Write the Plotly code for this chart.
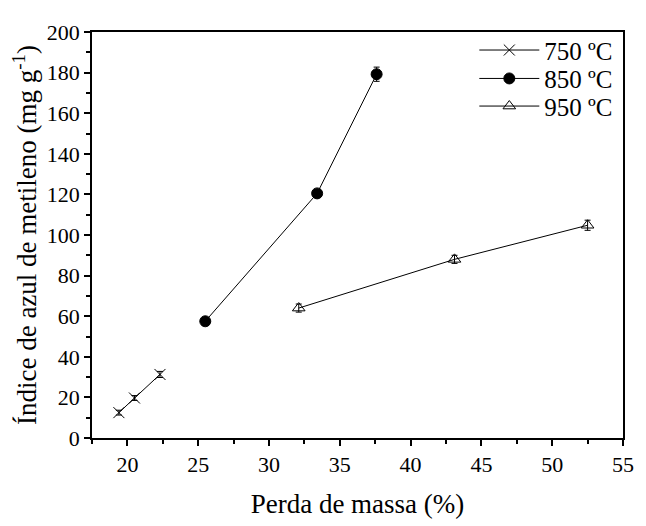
import plotly.graph_objects as go

# Data
x750 = [19.4, 20.5, 22.3]
y750 = [12.5, 19.7, 31.3]
e750 = [1.2, 1.2, 1.5]

x850 = [25.5, 33.4, 37.6]
y850 = [57.5, 120.5, 179.2]
e850 = [1.0, 1.5, 3.5]

x950 = [32.1, 43.1, 52.5]
y950 = [64.0, 88.0, 104.8]
e950 = [2.0, 2.0, 2.5]

names = ["750 ºC", "850 ºC", "950 ºC"]

font_family = "Liberation Serif"

fig = go.Figure()

def add(xs, ys, es, name, symbol, size, legend):
    fig.add_trace(go.Scatter(
        x=xs, y=ys, name=name, mode="lines+markers", legend=legend,
        line=dict(color="black", width=1),
        marker=dict(symbol=symbol, size=size, color="black",
                    line=dict(color="black", width=1)),
        error_y=dict(type="data", array=es, visible=True,
                     color="black", thickness=1, width=3),
    ))

add(x750, y750, e750, names[0], "x-thin-open", 11, "legend")
add(x850, y850, e850, names[1], "circle", 11, "legend2")
add(x950, y950, e950, names[2], "triangle-up-open", 11, "legend3")

axis_common = dict(
    showgrid=False, zeroline=False, showline=True, linecolor="black",
    linewidth=1.5, mirror=True, ticks="outside", ticklen=6, tickwidth=1.5,
    tickcolor="black", tickfont=dict(family=font_family, size=22, color="black"),
)

fig.update_xaxes(
    range=[17.5, 55], tick0=20, dtick=5,
    minor=dict(ticks="outside", ticklen=4, tickwidth=1.5, dtick=2.5, tick0=20, tickcolor="black"),
    title=dict(text="Perda de massa (%)", font=dict(family=font_family, size=27, color="black"), standoff=18),
    **axis_common,
)
fig.update_yaxes(
    range=[0, 200], tick0=0, dtick=20,
    minor=dict(ticks="outside", ticklen=4, tickwidth=1.5, dtick=10, tick0=0, tickcolor="black"),
    title=dict(text="Índice de azul de metileno (mg g<sup>-1</sup>)", font=dict(family=font_family, size=27, color="black"), standoff=8),
    **axis_common,
)

leg_common = dict(xref="paper", yref="paper", x=0.72, xanchor="left", yanchor="middle",
                  font=dict(family=font_family, size=25, color="black"),
                  bgcolor="rgba(0,0,0,0)", itemwidth=60)

fig.update_layout(
    width=638, height=518,
    margin=dict(l=82, r=13, t=14, b=77),
    paper_bgcolor="white", plot_bgcolor="white",
    showlegend=True,
    legend=dict(y=0.955, **leg_common),
    legend2=dict(y=0.885, **leg_common),
    legend3=dict(y=0.817, **leg_common),
)

fig.write_html("out.html")
